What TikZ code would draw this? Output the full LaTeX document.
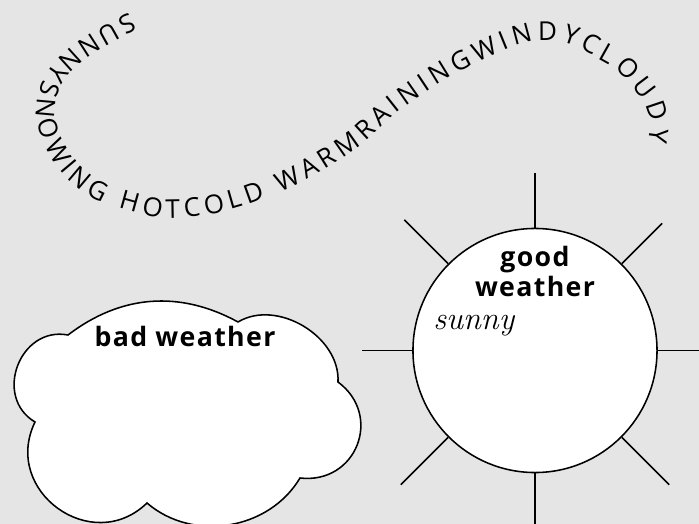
\documentclass[tikz,border=0pt]{standalone}
\usepackage{fontspec}
\usetikzlibrary{decorations.text,positioning}
\newfontfamily\weatherfont{Open Sans}
\newfontfamily\weatherbold[LetterSpace=5]{Open Sans Bold}
\newcommand{\curvefont}{\weatherfont\fontsize{18.5}{22}\selectfont}
\definecolor{skygrey}{RGB}{229,229,229}

\begin{document}
\begin{tikzpicture}[x=0.025cm,y=0.025cm,
    outline/.style={draw=black, line width=1.1pt, fill=white},
    ray/.style={black, line width=1.1pt},
    heading/.style={font=\weatherbold\fontsize{19}{22}\selectfont, inner sep=0pt, align=center}]
  \fill[skygrey, use as bounding box] (0,0) rectangle (699,-524);
  \clip (0,0) rectangle (699,-524);
  % words along the curve
  \path[decorate, decoration={text along path,
      text align={left indent=1pt, right indent=1pt, fit to path},
      text={|\curvefont|SUNNYSNOWING HOTCOLD WARMRAININGWINDYCLOUDY}}]
    plot[smooth, tension=0.7] coordinates {(131,-12) (69,-49) (40,-90) (41,-135) (74,-185)
      (130,-211) (190,-217) (271,-196) (349,-154) (407,-105) (482,-60) (548,-40)
      (601,-60) (630,-84) (649,-115) (648,-143)};
  % cloud
  \draw[outline] (68,-335) to[bend left=33] (238,-322)
    to[bend left=62] (338,-382)
    to[bend left=75, looseness=1.4] (300,-478)
    to[bend left=50] (147,-503)
    to[bend left=80, looseness=1.42] (35,-422)
    to[bend left=80, looseness=1.35] (68,-335) -- cycle;
  \node[heading, anchor=base] (badlabel) at (185,-347) {bad weather};
  % sun
  \node[circle, outline, minimum size=6.1cm, inner sep=0pt] (sun) at (535,-350.5) {};
  \foreach \a/\l in {0/60,45/57,90/55,135/62,180/50,225/67,270/60,315/67}
    \draw[ray] (sun.\a) -- +(\a:\l);
  \node[heading, anchor=base] (goodlabel) at (535,-297) {good\\weather};
  \node[font=\fontsize{23}{26}\selectfont\itshape, anchor=base west, inner sep=0pt] (sunnylabel) at (433,-330) {sunny};
\end{tikzpicture}
\end{document}
